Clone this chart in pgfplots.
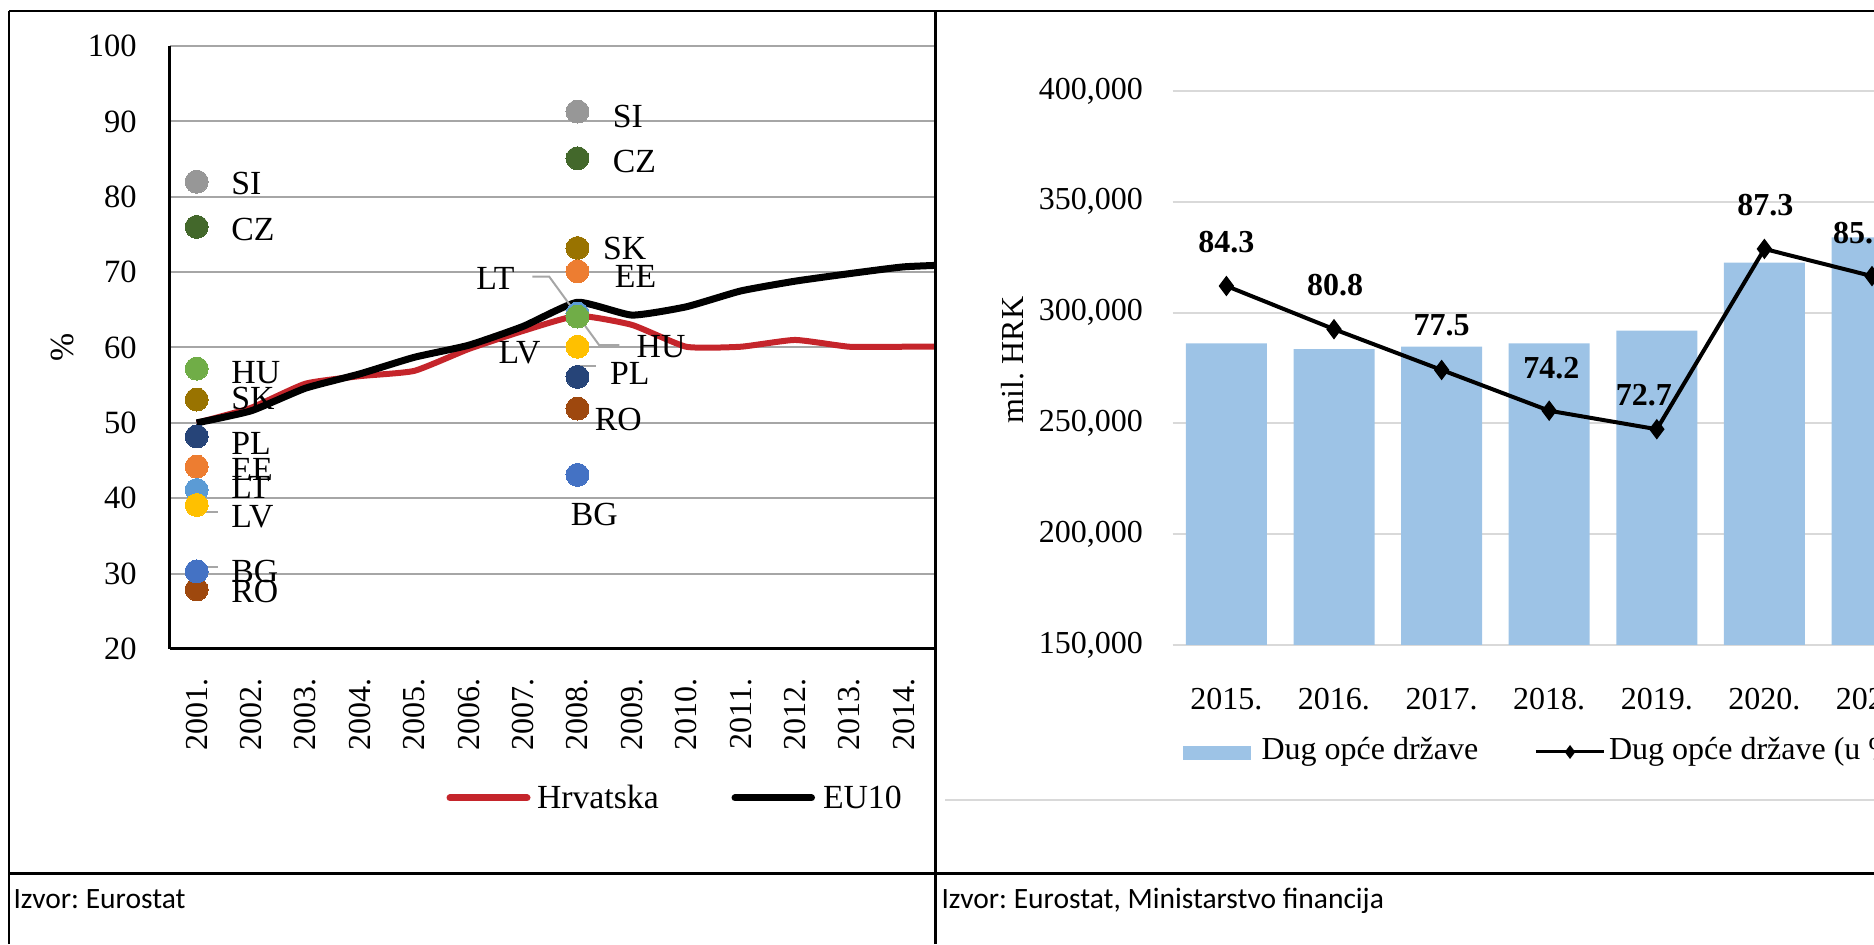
\documentclass[border=0pt]{standalone}
\usepackage{fontspec}
\setmainfont{Liberation Serif}
\newfontfamily\calib{Carlito}
\usepackage{pgfplots}
\pgfplotsset{compat=1.18}
\frenchspacing

\definecolor{hrv}{RGB}{197,37,43}
\definecolor{gridL}{RGB}{166,166,166}
\definecolor{gridR}{RGB}{217,217,217}
\definecolor{barblue}{RGB}{157,195,230}
\definecolor{cSI}{RGB}{151,151,151}
\definecolor{cCZ}{RGB}{67,104,43}
\definecolor{cHU}{RGB}{112,173,71}
\definecolor{cSK}{RGB}{153,115,0}
\definecolor{cPL}{RGB}{38,68,120}
\definecolor{cEE}{RGB}{237,125,49}
\definecolor{cLT}{RGB}{91,155,213}
\definecolor{cLV}{RGB}{255,192,0}
\definecolor{cBG}{RGB}{68,114,196}
\definecolor{cRO}{RGB}{158,72,14}

\newcommand{\fL}{\fontsize{13.5}{15}\selectfont}
\newcommand{\fT}{\fontsize{13}{15}\selectfont}
\newcommand{\fR}{\fontsize{12.8}{15}\selectfont}

\begin{document}
\begin{tikzpicture}
\path[use as bounding box] (0,0) rectangle (749.6pt,377.6pt);
\begin{scope}
\clip (0,0) rectangle (749.6pt,377.6pt);

% ---------- left chart ----------
\begin{scope}
\clip (0,0) rectangle (374.2pt,377.6pt);
\begin{axis}[
    at={(67.8pt,118pt)}, anchor=south west,
    scale only axis, width=306.48pt, height=241.2pt,
    xmin=2000.5, xmax=2014.585, ymin=20, ymax=100,
    axis x line=bottom, axis y line=left,
    axis line style={-, line width=1.2pt, black},
    tick style={draw=none},
    ytick={20,30,...,100},
    yticklabels={20,30,40,50,60,70,80,90,100},
    xtick={2001,...,2014},
    xticklabels={2001.,2002.,2003.,2004.,2005.,2006.,2007.,2008.,2009.,2010.,2011.,2012.,2013.,2014.},
    ymajorgrids,
    major grid style={line width=0.8pt, gridL},
    yticklabel style={font=\fT, inner sep=0pt, anchor=east},
    yticklabel shift=10.8pt,
    xticklabel style={font=\fR, inner sep=0pt, rotate=90, anchor=east},
    xticklabel shift=9.4pt,
]
\addplot[hrv, line width=2.4pt, smooth, tension=0.3] coordinates {
 (2001,50) (2002,52) (2003,55.2) (2004,56.2) (2005,56.9) (2006,59.8) (2007,62.2)
 (2008,64.2) (2009,63) (2010,60.1) (2011,60.1) (2012,61) (2013,60.1) (2014,60.1) (2015,60.1)};
\addplot[black, line width=2.8pt, smooth, tension=0.3] coordinates {
 (2001,50) (2002,51.6) (2003,54.6) (2004,56.5) (2005,58.7) (2006,60.3) (2007,62.8)
 (2008,66) (2009,64.3) (2010,65.4) (2011,67.5) (2012,68.8) (2013,69.8) (2014,70.7) (2015,71)};

\pgfplotsset{dot/.style={only marks, color=#1, mark=*, mark size=4.6pt, mark options={solid, draw=#1, fill=#1, line width=0pt}}}
\addplot[dot=cSI] coordinates {(2001,82.0) (2008,91.3)};
\addplot[dot=cCZ] coordinates {(2001,76.0) (2008,85.1)};
\addplot[dot=cSK] coordinates {(2001,53.1) (2008,73.2)};
\addplot[dot=cEE] coordinates {(2001,44.2) (2008,70.1)};
\addplot[dot=cLT] coordinates {(2001,41.1) (2008,64.5)};
\addplot[dot=cHU] coordinates {(2001,57.2) (2008,64.1)};
\addplot[dot=cPL] coordinates {(2001,48.2) (2008,56.1)};
\addplot[dot=cLV] coordinates {(2001,39.1) (2008,60.1)};
\addplot[dot=cRO] coordinates {(2001,27.9) (2008,51.9)};
\addplot[dot=cBG] coordinates {(2001,30.3) (2008,43.1)};

% leader lines
\draw[gridL, line width=0.8pt] (axis cs:2007.17,69.4) -- (axis cs:2007.48,69.4) -- (axis cs:2008.40,60.3) -- (axis cs:2008.77,60.3);
\draw[gridL, line width=0.8pt] (axis cs:2007.4,60.1) -- (axis cs:2007.77,60.1);
\draw[gridL, line width=0.8pt] (axis cs:2008.04,57.5) -- (axis cs:2008.34,57.5);
\draw[gridL, line width=0.8pt] (axis cs:2001.0,38.2) -- (axis cs:2001.39,38.2);
\draw[gridL, line width=0.8pt] (axis cs:2000.97,30.9) -- (axis cs:2001.39,30.9);

% labels 2001
\begin{scope}[every node/.style={font=\fL, inner sep=0pt, anchor=west}]
\node at (axis cs:2001.63,81.8) {SI};
\node at (axis cs:2001.63,75.7) {CZ};
\node at (axis cs:2001.63,56.7) {HU};
\node at (axis cs:2001.63,53.3) {SK};
\node at (axis cs:2001.63,47.3) {PL};
\node at (axis cs:2001.63,43.8) {EE};
\node at (axis cs:2001.63,41.4) {LT};
\node at (axis cs:2001.63,37.6) {LV};
\node at (axis cs:2001.63,30.3) {BG};
\node at (axis cs:2001.63,27.6) {RO};
% labels 2008
\node at (axis cs:2008.64,90.6) {SI};
\node at (axis cs:2008.64,84.7) {CZ};
\node at (axis cs:2008.46,73.2) {SK};
\node at (axis cs:2008.68,69.4) {EE};
\node at (axis cs:2009.08,60.1) {HU};
\node at (axis cs:2008.59,56.6) {PL};
\node at (axis cs:2008.31,50.4) {RO};
\node[anchor=east] at (axis cs:2006.85,69.2) {LT};
\node[anchor=east] at (axis cs:2007.33,59.3) {LV};
\node[anchor=center] at (axis cs:2008.31,37.8) {BG};
\end{scope}
\end{axis}
\end{scope}

% ---------- right chart ----------
\begin{axis}[
    at={(469.04pt,119.6pt)}, anchor=south west,
    scale only axis, width=344.32pt, height=221.6pt,
    xmin=2014.5, xmax=2022.5, ymin=150000, ymax=400000,
    scaled y ticks=false,
    axis line style={draw=none},
    tick style={draw=none},
    ybar, bar width=32.4pt,
    ytick={150000,200000,...,400000},
    yticklabels={{150,000},{200,000},{250,000},{300,000},{350,000},{400,000}},
    xtick={2015,...,2021},
    xticklabels={2015.,2016.,2017.,2018.,2019.,2020.,2021.},
    ymajorgrids,
    major grid style={line width=0.8pt, gridR},
    yticklabel style={font=\fR, inner sep=0pt, anchor=east},
    yticklabel shift=11.7pt,
    xticklabel style={font=\fR, inner sep=0pt, anchor=north},
    xticklabel shift=13pt,
]
\addplot[draw=none, fill=barblue] coordinates {
 (2015,286150) (2016,283570) (2017,284610) (2018,286150) (2019,291830) (2020,322520) (2021,333980)};
\end{axis}

\begin{axis}[
    at={(469.04pt,119.6pt)}, anchor=south west,
    scale only axis, width=344.32pt, height=221.6pt,
    xmin=2014.5, xmax=2022.5, ymin=55.23, ymax=100.09,
    hide axis,
]
\addplot[black, line width=1.6pt, mark=diamond*, mark size=2.8pt] coordinates {
 (2015,84.3) (2016,80.8) (2017,77.5) (2018,74.2) (2019,72.7) (2020,87.3) (2021,85.1)};
\begin{scope}[every node/.style={font=\fR\bfseries, inner sep=0pt}]
\node at (axis cs:2015.0,87.89) {84.3};
\node at (axis cs:2016.01,84.38) {80.8};
\node at (axis cs:2017.0,81.14) {77.5};
\node at (axis cs:2018.02,77.64) {74.2};
\node at (axis cs:2018.88,75.47) {72.7};
\node at (axis cs:2020.01,90.86) {87.3};
\node at (axis cs:2020.9,88.59) {85.1};
\end{scope}
\end{axis}

% legends
\draw[hrv, line width=2.8pt, line cap=round] (180pt,58.4pt) -- (210.8pt,58.4pt);
\node[anchor=base west, inner sep=0pt, font=\fL] at (214.6pt,54.4pt) {Hrvatska};
\draw[black, line width=2.8pt, line cap=round] (294pt,58.4pt) -- (324.6pt,58.4pt);
\node[anchor=base west, inner sep=0pt, font=\fL] at (329pt,54.4pt) {EU10};

\fill[barblue] (473.2pt,73.6pt) rectangle (500.4pt,79.2pt);
\node[anchor=base west, inner sep=0pt, font=\fR] at (504.4pt,73.6pt) {Dug opće države};
\draw[black, line width=1.2pt] (614.3pt,76.8pt) -- (641.6pt,76.8pt);
\fill[black] (628pt,79.6pt) -- (630.1pt,76.8pt) -- (628pt,74pt) -- (625.9pt,76.8pt) -- cycle;
\node[anchor=base west, inner sep=0pt, font=\fR] at (643.4pt,73.6pt) {Dug opće države (u \% BDP-a)};

% chart border line of the right chart
\draw[gridR, line width=0.8pt] (378pt,57.6pt) -- (749.6pt,57.6pt);

% axis titles
\node[rotate=90, font=\fL, inner sep=0pt] at (24.8pt,238.8pt) {\%};
\node[rotate=90, font=\fR, inner sep=0pt] at (405.2pt,233.6pt) {mil.\ HRK};

% table frame
\draw[black, line width=1pt] (3.6pt,373.2pt) -- (749.6pt,373.2pt);
\draw[black, line width=1pt] (3.6pt,0pt) -- (3.6pt,373.2pt);
\draw[black, line width=1pt] (374.2pt,0pt) -- (374.2pt,373.2pt);
\draw[black, line width=1pt] (3.6pt,28.2pt) -- (749.6pt,28.2pt);

% captions
\node[anchor=base west, inner sep=0pt, font=\calib\fontsize{11.8}{14}\selectfont] at (5.2pt,14.2pt) {Izvor: Eurostat};
\node[anchor=base west, inner sep=0pt, font=\calib\fontsize{11.8}{14}\selectfont] at (376.4pt,14.2pt) {Izvor: Eurostat, Ministarstvo financija};
\end{scope}
\end{tikzpicture}
\end{document}
